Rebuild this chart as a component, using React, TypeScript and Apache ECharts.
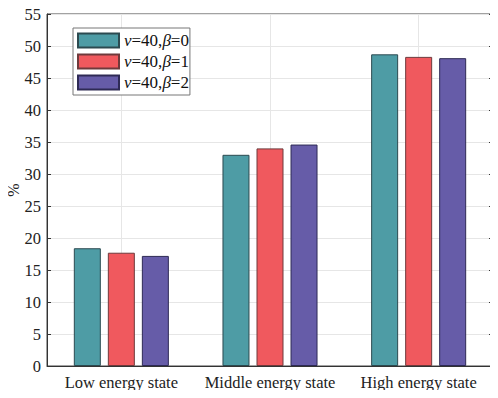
import React, { useEffect, useRef } from "react";
import * as echarts from "echarts";

const categories = ["Low energy state", "Middle energy state", "High energy state"];
const seriesNames = ["ν=40,β=0", "ν=40,β=1", "ν=40,β=2"];
const beta0 = [18.4, 33.0, 48.7];
const beta1 = [17.7, 34.0, 48.3];
const beta2 = [17.2, 34.6, 48.1];
const colors = ["#4E9CA5", "#F0595E", "#665CA8"];
const borders = ["#2C4A50", "#6E3A3C", "#2E2A55"];
const gridHelper = ["0", "1", "2", "3", "4", "5", "6"];

const FONT = "'Liberation Serif', 'Times New Roman', serif";

export default function App() {
  const ref = useRef<HTMLDivElement>(null);
  useEffect(() => {
    if (!ref.current) return;
    const chart = echarts.init(ref.current, null, { renderer: "svg" });
    const values = [beta0, beta1, beta2];
    chart.setOption({
      animation: false,
      backgroundColor: "#ffffff",
      textStyle: { fontFamily: FONT },
      grid: {
        left: 47,
        right: 5,
        top: 14,
        bottom: 32,
        containLabel: false,
        outerBoundsMode: "none",
        show: true,
        borderColor: "#444",
        borderWidth: 1,
        backgroundColor: "transparent",
      },
      legend: {
        left: 73,
        top: 28,
        orient: "vertical",
        backgroundColor: "#ffffff",
        borderColor: "#777",
        borderWidth: 1,
        borderRadius: 0,
        padding: [4, 1, 4, 4],
        itemWidth: 41,
        itemHeight: 14,
        itemGap: 4,
        icon: "rect",
        textStyle: {
          fontFamily: FONT,
          fontSize: 17,
          lineHeight: 16,
          color: "#111",
          rich: {
            i: { fontFamily: FONT, fontSize: 17, lineHeight: 16, fontStyle: "italic", color: "#111" },
          },
        },
        formatter: (name: string) => name.replace(/(ν|β)/g, "{i|$1}"),
        data: seriesNames,
      },
      xAxis: [
        {
          type: "category",
          data: categories,
          boundaryGap: true,
          axisLine: { show: true, lineStyle: { color: "#333", width: 1 } },
          axisTick: { show: true, inside: true, alignWithLabel: true, length: 4, lineStyle: { color: "#333" } },
          axisLabel: { fontFamily: FONT, fontSize: 16.5, color: "#222", margin: 8, interval: 0 },
          splitLine: { show: false },
        },
        {
          type: "category",
          data: gridHelper,
          boundaryGap: false,
          position: "bottom",
          axisLine: { show: false },
          axisTick: { show: false },
          axisLabel: { show: false },
          splitLine: {
            show: true,
            interval: (index: number) => index % 2 === 1,
            lineStyle: { color: "#e6e6e6", width: 1 },
          },
        },
      ],
      yAxis: [
        {
          type: "value",
          min: 0,
          max: 55,
          interval: 5,
          name: "%",
          nameLocation: "middle",
          nameMoveOverlap: false,
          nameGap: 34,
          nameRotate: 90,
          nameTextStyle: { fontFamily: FONT, fontSize: 16, color: "#222", align: "center", verticalAlign: "middle" },
          axisLine: { show: true, lineStyle: { color: "#333", width: 1 } },
          axisTick: { show: true, inside: true, length: 4, lineStyle: { color: "#333" } },
          axisLabel: { fontFamily: FONT, fontSize: 16.5, color: "#222", margin: 6 },
          splitLine: { show: true, lineStyle: { color: "#e6e6e6", width: 1 } },
        },
        {
          type: "value",
          min: 0,
          max: 55,
          interval: 5,
          position: "right",
          axisLine: { show: true, lineStyle: { color: "#333", width: 1 } },
          axisTick: { show: true, inside: true, length: 4, lineStyle: { color: "#333" } },
          axisLabel: { show: false },
          splitLine: { show: false },
        },
      ],
      series: seriesNames.map((name, i) => ({
        name,
        type: "bar",
        xAxisIndex: 0,
        yAxisIndex: 0,
        data: values[i],
        barWidth: 27,
        barGap: "26%",
        itemStyle: { color: colors[i], borderColor: borders[i], borderWidth: 1 },
        z: 3,
      })),
    });
    return () => chart.dispose();
  }, []);
  return <div ref={ref} style={{ width: 498, height: 398, margin: -8 }} />;
}
